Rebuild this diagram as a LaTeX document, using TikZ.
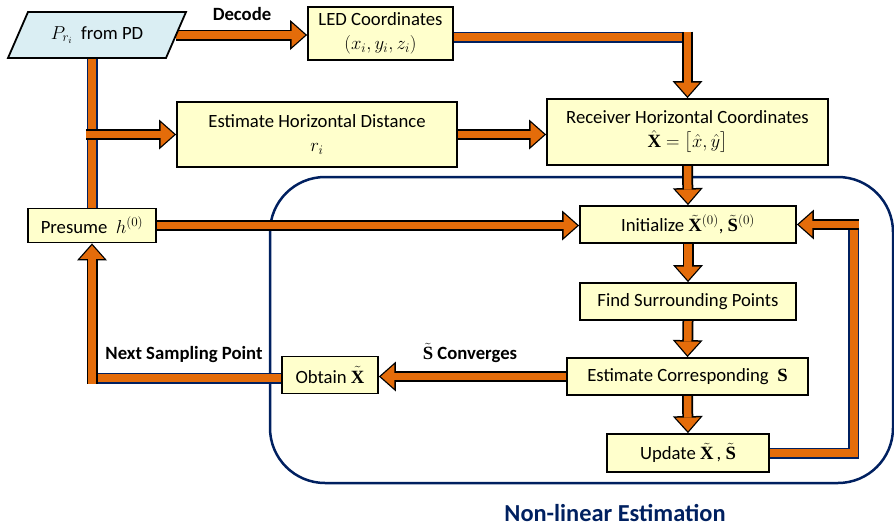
\RequirePackage{fix-cm}
\documentclass[tikz,border=0pt]{standalone}
\usepackage{amsmath}
\usepackage{fontspec}
\setmainfont{Carlito}
\setmathrm{Liberation Serif}
\usetikzlibrary{arrows.meta}

\definecolor{flow}{HTML}{E46C0A}
\definecolor{edge}{HTML}{002060}
\definecolor{boxfill}{HTML}{FFFFCC}
\definecolor{pdfill}{HTML}{DAEEF3}

\pgfdeclarelayer{back}
\pgfdeclarelayer{links}
\pgfsetlayers{back,links,main}

\newcommand\bodyfont{\fontsize{18.7}{24}\selectfont}

\tikzset{
  box/.style={draw=black, line width=1.8pt, fill=boxfill, inner sep=0pt,
    align=center, font=\bodyfont},
  pipe/.style={draw=edge, line width=11pt,
    postaction={draw=flow, line width=7.5pt}},
  fat/.style={draw=black, line width=11pt,
    -{Triangle[width=30pt,length=17pt,line width=0pt]},
    postaction={draw=flow, line width=7.5pt,
      -{Triangle[width=24pt,length=13.5pt,line width=0pt]}, shorten >=2pt}},
  tag/.style={font=\bodyfont\bfseries, inner sep=0pt}
}

\begin{document}
\begin{tikzpicture}[x=1pt,y=-1pt]
\useasboundingbox (0,0) rectangle (894,528);

% input parallelogram
\filldraw[fill=pdfill, draw=black, line width=1.8pt]
  (8,58) -- (166,58) -- (186,12) -- (28,12) -- cycle;
\node[font=\bodyfont, minimum width=158pt, minimum height=46pt, inner sep=0pt]
  (pd) at (97,35) {$P_{r_i}$\ \ from PD};

% process boxes
\node[box, minimum width=145pt, minimum height=53pt] (led) at (380.5,33.5)
  {LED Coordinates\\ $(x_i, y_i, z_i)$};
\node[box, minimum width=281pt, minimum height=66pt] (recv) at (687.5,132)
  {Receiver Horizontal Coordinates\\ $\hat{\mathbf{X}} = \bigl[\hat{x}, \hat{y}\bigr]$};
\node[box, minimum width=280pt, minimum height=65pt] (ehd) at (317,134.5)
  {Estimate Horizontal Distance\\ $r_i$};
\node[box, minimum width=128pt, minimum height=34pt] (presume) at (92,225.5)
  {Presume\ \ $h^{(0)}$};
\node[box, minimum width=216pt, minimum height=37pt] (init) at (688,224.5)
  {Initialize $\tilde{\mathbf{X}}^{(0)}$, $\tilde{\mathbf{S}}^{(0)}$};
\node[box, minimum width=216pt, minimum height=37pt] (find) at (688,301.5)
  {Find Surrounding Points};
\node[box, minimum width=241pt, minimum height=37pt] (est) at (687.5,376.5)
  {Estimate Corresponding\ \ $\mathbf{S}$};
\node[box, minimum width=162pt, minimum height=38pt] (update) at (688,453)
  {Update $\tilde{\mathbf{X}}$\,,\ $\tilde{\mathbf{S}}$};
\node[box, minimum width=96pt, minimum height=37pt] (obtain) at (330,375)
  {Obtain $\tilde{\mathbf{X}}$};

% labels
\node[tag] (decode) at (242,14) {Decode};
\node[tag] (nextpt) at (184,355) {Next Sampling Point};
\node[tag] (conv) at (470,353) {$\tilde{\mathbf{S}}$ Converges};
\node[font=\fontsize{24.4}{28}\selectfont\bfseries, text=edge, inner sep=0pt]
  (nle) at (615,513) {Non-linear Estimation};

% iteration region
\begin{pgfonlayer}{back}
\node[draw=edge, line width=2.5pt, rounded corners=55pt,
  minimum width=623pt, minimum height=306pt] (region) at (581.5,330) {};
\end{pgfonlayer}

% connectors
\begin{pgfonlayer}{links}
\draw[fat] (pd.east) -- (pd.east -| led.west);

\coordinate (k1) at ([yshift=-3.5pt]led.east -| recv.north);
\draw[pipe] ([yshift=-3.5pt]led.east) -- ([xshift=5pt]k1);
\draw[fat] ([yshift=5.5pt]k1) -- (recv.north);

\draw[pipe] (pd.south -| presume.north) -- (presume.north);
\draw[fat] ([xshift=-6pt]presume.north |- ehd.west) -- (ehd.west);
\draw[fat] (ehd.east) -- (ehd.east -| recv.west);

\draw[fat] (recv.south) -- (init.north);
\draw[fat] (presume.east) -- (presume.east -| init.west);
\draw[fat] (init.south) -- (find.north);
\draw[fat] (find.south) -- (est.north);
\draw[fat] (est.south) -- (update.north);

\coordinate (k2) at ([xshift=84pt]update.east);
\draw[pipe] (update.east) -- (k2) -- (k2 |- init.east);
\draw[fat] ([xshift=5.5pt]k2 |- init.east) -- (init.east);

\draw[fat] (est.west) -- (est.west -| obtain.east);

\coordinate (k3) at ([yshift=-3pt]obtain.west -| presume.south);
\draw[pipe] ([yshift=-3pt]obtain.west) -- (k3);
\draw[fat] ([yshift=-5.5pt]k3) -- (presume.south);
\end{pgfonlayer}
\end{tikzpicture}
\end{document}
